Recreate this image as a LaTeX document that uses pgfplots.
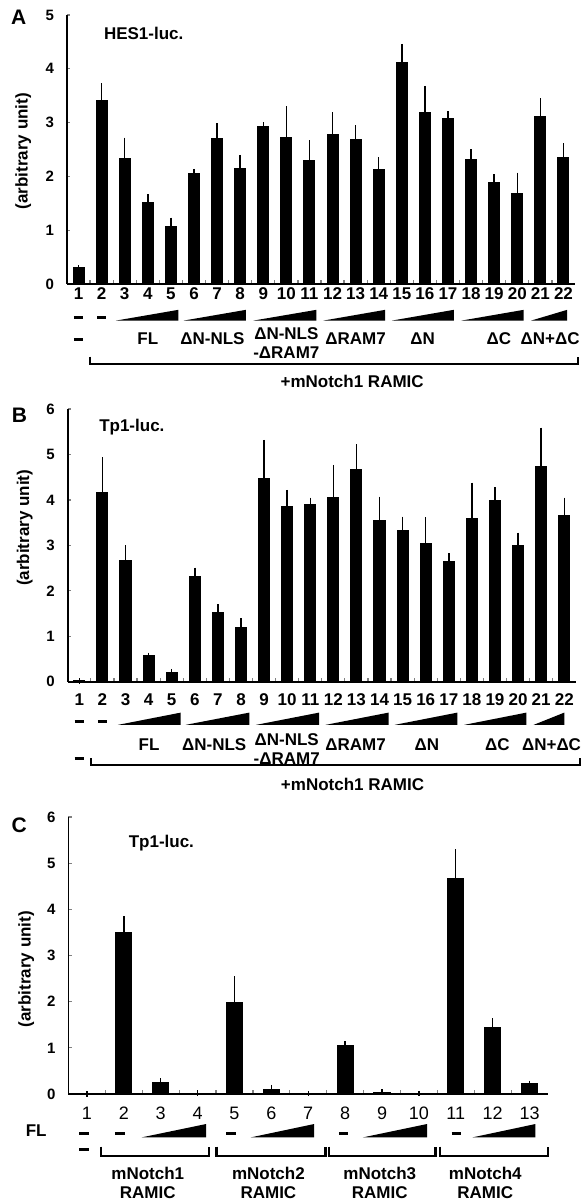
\documentclass[border=0pt]{standalone}
\usepackage{fontspec}
\setmainfont{Liberation Sans}
\usepackage{pgfplots}
\pgfplotsset{compat=1.18}
\usepackage{pgfplotstable}

% x y e  (e = upper error)
\pgfplotstableread{
x y e
1 0.30 0.00
2 3.42 0.26
3 2.33 0.34
4 1.51 0.11
5 1.06 0.12
6 2.05 0.04
7 2.70 0.24
8 2.15 0.20
9 2.93 0.02
10 2.72 0.53
11 2.30 0.32
12 2.78 0.36
13 2.69 0.21
14 2.12 0.18
15 4.12 0.29
16 3.19 0.44
17 3.08 0.08
18 2.32 0.13
19 1.89 0.10
20 1.68 0.34
21 3.12 0.28
22 2.36 0.20
}\dataA

\pgfplotstableread{
x y e
1 0.02 0.00
2 4.17 0.71
3 2.67 0.27
4 0.57 0.01
5 0.21 0.01
6 2.31 0.14
7 1.52 0.12
8 1.20 0.14
9 4.48 0.78
10 3.85 0.31
11 3.90 0.09
12 4.05 0.66
13 4.68 0.48
14 3.55 0.46
15 3.33 0.24
16 3.05 0.51
17 2.64 0.13
18 3.60 0.72
19 3.99 0.23
20 3.00 0.22
21 4.74 0.79
22 3.66 0.33
}\dataB

\pgfplotstableread{
x y e
1 0.00 0.00
2 3.50 0.29
3 0.26 0.02
4 0.02 0.00
5 1.99 0.50
6 0.10 0.04
7 0.01 0.00
8 1.05 0.03
9 0.04 0.00
10 0.01 0.00
11 4.67 0.57
12 1.45 0.13
13 0.22 0.01
}\dataC

\newcommand{\lab}{\bfseries\fontsize{8.5}{9.5}\selectfont}

\pgfplotsset{
  panel/.style={
    scale only axis, ybar, bar width=0.48, ymin=0, clip=false,
    axis lines*=left, axis line style={-, line width=0.7pt},
    x axis line style={line width=1pt},
    tick align=inside, tick pos=left,
    major tick length=1.5pt, minor tick length=1.8pt,
    major x tick style={draw=none}, minor x tick num=1,
    minor x tick style={line width=0.6pt},
    ytick style={line width=0.6pt},
    /pgf/number format/assume math mode=true,
    yticklabel style={font=\bfseries\fontsize{7.5}{8}\selectfont, xshift=-3pt},
    xticklabel style={font=\bfseries\fontsize{8.5}{9}\selectfont, anchor=north, inner sep=0pt},
    ylabel={(arbitrary unit)},
    ylabel style={font=\lab, anchor=center},
  },
  bars/.style={fill=black, draw=black, line width=0pt,
    error bars/.cd, y dir=plus, y explicit,
    error bar style={line width=0.7pt, black},
    error mark options={black, line width=0.7pt, mark size=1.4pt}},
}

\begin{document}
\begin{tikzpicture}
\path[use as bounding box] (0,0) rectangle (290.5pt,-600.5pt);

% ---------------- A ----------------
\begin{axis}[panel,
  at={(33.5pt,-142pt)}, anchor=south west,
  width=254pt, height=134.5pt,
  xmin=0.5, xmax=22.5, ymax=5,
  xtick={1,...,22}, ytick={0,1,...,5},
  xticklabel style={yshift=-1.5pt},
  ylabel style={at={(axis description cs:-0.086,0.494)}},
]
\addplot[bars] table[x=x, y=y, y error=e] {\dataA};
\node[font=\bfseries\fontsize{10.5}{11}\selectfont] at (axis description cs:-0.095,0.99) {A};
\node[font=\lab, anchor=west] at (axis description cs:0.059,0.933) {HES1-luc.};
% dashes
\draw[line width=1.5pt] (axis cs:0.8,-0.63) -- (axis cs:1.2,-0.63);
\draw[line width=1.5pt] (axis cs:1.8,-0.63) -- (axis cs:2.2,-0.63);
\draw[line width=1.5pt] (axis cs:0.8,-1.04) -- (axis cs:1.2,-1.04);
% wedges
\fill (axis cs:2.62,-0.68) -- (axis cs:5.32,-0.68) -- (axis cs:5.32,-0.48) -- cycle;
\fill (axis cs:5.55,-0.68) -- (axis cs:8.25,-0.68) -- (axis cs:8.25,-0.48) -- cycle;
\fill (axis cs:8.57,-0.68) -- (axis cs:11.30,-0.68) -- (axis cs:11.30,-0.48) -- cycle;
\fill (axis cs:11.60,-0.68) -- (axis cs:14.28,-0.68) -- (axis cs:14.28,-0.48) -- cycle;
\fill (axis cs:14.57,-0.68) -- (axis cs:17.25,-0.68) -- (axis cs:17.25,-0.48) -- cycle;
\fill (axis cs:17.58,-0.68) -- (axis cs:20.28,-0.68) -- (axis cs:20.28,-0.48) -- cycle;
\fill (axis cs:20.60,-0.68) -- (axis cs:22.16,-0.68) -- (axis cs:22.16,-0.48) -- cycle;
% group labels
\node[font=\lab] at (axis cs:4.0,-1.01) {FL};
\node[font=\lab] at (axis cs:6.8,-1.01) {ΔN-NLS};
\node[font=\lab, align=center] at (axis cs:10.0,-1.10) {ΔN-NLS\\-ΔRAM7};
\node[font=\lab] at (axis cs:13.0,-1.01) {ΔRAM7};
\node[font=\lab] at (axis cs:15.9,-1.01) {ΔN};
\node[font=\lab] at (axis cs:19.2,-1.01) {ΔC};
\node[font=\lab] at (axis cs:21.42,-1.01) {ΔN+ΔC};
% bracket
\draw[line width=1.1pt] (axis cs:1.51,-1.35) -- (axis cs:1.51,-1.49) -- (axis cs:22.64,-1.49) -- (axis cs:22.64,-1.35);
\node[font=\lab] at (axis cs:12.85,-1.81) {+mNotch1 RAMIC};
\end{axis}

% ---------------- B ----------------
\begin{axis}[panel,
  at={(33.9pt,-340.85pt)}, anchor=south west,
  width=254pt, height=136.35pt,
  xmin=0.5, xmax=22.5, ymax=6,
  xtick={1,...,22}, ytick={0,1,...,6},
  xticklabel style={yshift=-6pt},
  ylabel style={at={(axis description cs:-0.085,0.564)}},
]
\addplot[bars] table[x=x, y=y, y error=e] {\dataB};
\node[font=\bfseries\fontsize{10.5}{11}\selectfont] at (axis description cs:-0.095,0.978) {B};
\node[font=\lab, anchor=west] at (axis description cs:0.048,0.935) {Tp1-luc.};
\draw[line width=1.5pt] (axis cs:0.8,-0.88) -- (axis cs:1.2,-0.88);
\draw[line width=1.5pt] (axis cs:1.8,-0.88) -- (axis cs:2.2,-0.88);
\draw[line width=1.5pt] (axis cs:0.8,-1.70) -- (axis cs:1.2,-1.70);
\fill (axis cs:2.67,-0.95) -- (axis cs:5.39,-0.95) -- (axis cs:5.39,-0.68) -- cycle;
\fill (axis cs:5.60,-0.95) -- (axis cs:8.36,-0.95) -- (axis cs:8.36,-0.68) -- cycle;
\fill (axis cs:8.65,-0.95) -- (axis cs:11.38,-0.95) -- (axis cs:11.38,-0.68) -- cycle;
\fill (axis cs:11.66,-0.95) -- (axis cs:14.39,-0.95) -- (axis cs:14.39,-0.68) -- cycle;
\fill (axis cs:14.65,-0.95) -- (axis cs:17.37,-0.95) -- (axis cs:17.37,-0.68) -- cycle;
\fill (axis cs:17.66,-0.95) -- (axis cs:20.36,-0.95) -- (axis cs:20.36,-0.68) -- cycle;
\fill (axis cs:20.67,-0.95) -- (axis cs:22.00,-0.95) -- (axis cs:22.00,-0.68) -- cycle;
\node[font=\lab] at (axis cs:4.02,-1.39) {FL};
\node[font=\lab] at (axis cs:6.84,-1.39) {ΔN-NLS};
\node[font=\lab, align=center] at (axis cs:9.98,-1.49) {ΔN-NLS\\-ΔRAM7};
\node[font=\lab] at (axis cs:12.96,-1.39) {ΔRAM7};
\node[font=\lab] at (axis cs:16.05,-1.39) {ΔN};
\node[font=\lab] at (axis cs:19.1,-1.39) {ΔC};
\node[font=\lab] at (axis cs:21.45,-1.39) {ΔN+ΔC};
\draw[line width=1.1pt] (axis cs:1.5,-1.68) -- (axis cs:1.5,-1.83) -- (axis cs:22.7,-1.83) -- (axis cs:22.7,-1.68);
\node[font=\lab] at (axis cs:12.83,-2.25) {+mNotch1 RAMIC};
\end{axis}

% ---------------- C ----------------
\begin{axis}[panel,
  at={(34.25pt,-547pt)}, anchor=south west,
  width=239.75pt, height=138.5pt,
  xmin=0.5, xmax=13.5, ymax=6,
  xtick={1,...,13}, ytick={0,1,...,6},
  bar width=0.44,
  xticklabel style={yshift=-6.5pt, font=\fontsize{9}{10}\selectfont},
  ylabel style={at={(axis description cs:-0.088,0.451)}},
]
\addplot[bars] table[x=x, y=y, y error=e] {\dataC};
\node[font=\bfseries\fontsize{10.5}{11}\selectfont] at (axis description cs:-0.103,0.969) {C};
\node[font=\lab, anchor=west] at (axis description cs:0.111,0.905) {Tp1-luc.};
\node[font=\lab] at (axis cs:-0.375,-0.79) {FL};
\draw[line width=1.5pt] (axis cs:0.79,-0.85) -- (axis cs:1.05,-0.85);
\draw[line width=1.5pt] (axis cs:1.76,-0.85) -- (axis cs:2.02,-0.85);
\draw[line width=1.5pt] (axis cs:4.78,-0.85) -- (axis cs:5.04,-0.85);
\draw[line width=1.5pt] (axis cs:7.83,-0.85) -- (axis cs:8.09,-0.85);
\draw[line width=1.5pt] (axis cs:10.89,-0.85) -- (axis cs:11.15,-0.85);
\draw[line width=1.5pt] (axis cs:0.79,-1.21) -- (axis cs:1.05,-1.21);
\fill (axis cs:2.48,-0.94) -- (axis cs:4.23,-0.94) -- (axis cs:4.23,-0.65) -- cycle;
\fill (axis cs:5.44,-0.94) -- (axis cs:7.16,-0.94) -- (axis cs:7.16,-0.65) -- cycle;
\fill (axis cs:8.48,-0.94) -- (axis cs:10.22,-0.94) -- (axis cs:10.22,-0.65) -- cycle;
\fill (axis cs:11.45,-0.94) -- (axis cs:13.16,-0.94) -- (axis cs:13.16,-0.65) -- cycle;
\draw[line width=1.1pt] (axis cs:1.375,-1.14) -- (axis cs:1.375,-1.345) -- (axis cs:4.30,-1.345) -- (axis cs:4.30,-1.14);
\draw[line width=1.1pt] (axis cs:4.51,-1.14) -- (axis cs:4.51,-1.345) -- (axis cs:7.47,-1.345) -- (axis cs:7.47,-1.14);
\draw[line width=1.1pt] (axis cs:7.56,-1.14) -- (axis cs:7.56,-1.345) -- (axis cs:10.45,-1.345) -- (axis cs:10.45,-1.14);
\draw[line width=1.1pt] (axis cs:10.58,-1.14) -- (axis cs:10.58,-1.345) -- (axis cs:13.5,-1.345) -- (axis cs:13.5,-1.14);
\node[font=\lab, align=center] at (axis cs:2.65,-1.92) {mNotch1\\RAMIC};
\node[font=\lab, align=center] at (axis cs:5.92,-1.92) {mNotch2\\RAMIC};
\node[font=\lab, align=center] at (axis cs:8.94,-1.92) {mNotch3\\RAMIC};
\node[font=\lab, align=center] at (axis cs:11.8,-1.92) {mNotch4\\RAMIC};
\end{axis}
\end{tikzpicture}
\end{document}
